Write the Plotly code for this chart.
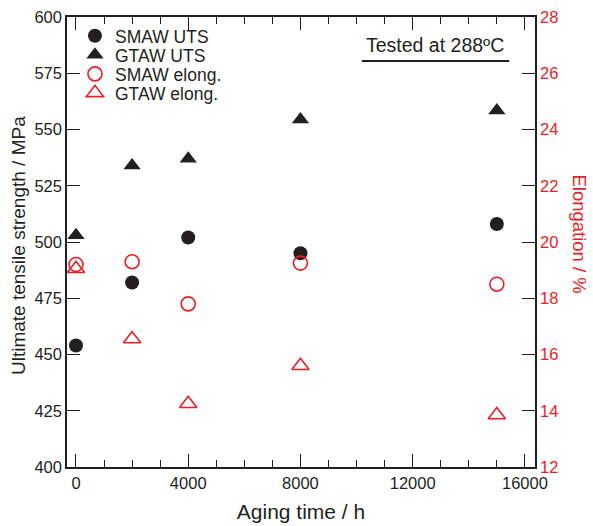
import plotly.graph_objects as go

aging_time = [0, 2000, 4000, 8000, 15000]
smaw_uts = [454, 482, 502, 495, 508]
gtaw_uts = [503, 534, 537, 554.5, 558.5]
smaw_elong = [19.2, 19.3, 17.8, 19.25, 18.5]
gtaw_elong = [19.05, 16.55, 14.25, 15.6, 13.85]
x_ticks = [0, 4000, 8000, 12000, 16000]
x_tick_labels = ["0", "4000", "8000", "12000", "16000"]

RED = "#ec1c24"
DARK = "#231f20"
FONT = "Liberation Sans, Arial, sans-serif"

fig = go.Figure()
fig.add_trace(go.Scatter(x=aging_time, y=smaw_uts, mode="markers", name="SMAW UTS", legend="legend",
                         marker=dict(symbol="circle", size=14, color=DARK, line=dict(width=0))))
fig.add_trace(go.Scatter(x=aging_time, y=gtaw_uts, mode="markers", name="GTAW UTS", legend="legend2",
                         marker=dict(symbol="triangle-up", size=15, color=DARK, line=dict(width=0))))
fig.add_trace(go.Scatter(x=aging_time, y=smaw_elong, mode="markers", name="SMAW elong.", yaxis="y2", legend="legend3",
                         marker=dict(symbol="circle-open", size=14, color=RED, line=dict(width=1.6, color=RED))))
fig.add_trace(go.Scatter(x=aging_time, y=gtaw_elong, mode="markers", name="GTAW elong.", yaxis="y2", legend="legend4",
                         marker=dict(symbol="triangle-up-open", size=15, color=RED, line=dict(width=1.6, color=RED))))

def leg(y):
    return dict(x=0.017, y=y, xanchor="left", yanchor="middle", bgcolor="rgba(0,0,0,0)",
                font=dict(size=17.5, color=DARK), itemwidth=30, borderwidth=0)

fig.update_layout(
    width=593, height=526,
    margin=dict(l=67, r=58, t=17, b=59, autoexpand=False),
    paper_bgcolor="white", plot_bgcolor="white",
    font=dict(family=FONT, size=16, color=DARK),
    showlegend=True,
    legend=leg(0.958), legend2=leg(0.9156), legend3=leg(0.8733), legend4=leg(0.8311),
    xaxis=dict(range=[-320, 16360], tickvals=x_ticks, ticktext=x_tick_labels, automargin=False,
               ticks="inside", ticklen=13, tickwidth=1, tickcolor=DARK,
               minor=dict(dtick=1000, ticks="inside", ticklen=7, tickcolor=DARK, showgrid=False),
               showline=True, linecolor=DARK, linewidth=1.5, mirror="ticks",
               showgrid=False, zeroline=False,
               tickfont=dict(size=16.5, color=DARK),
               title=dict(text="Aging time / h", font=dict(size=21, color=DARK), standoff=14)),
    yaxis=dict(range=[400, 600], dtick=25, ticks="inside", ticklen=13, tickcolor=DARK, automargin=False,
               showline=True, linecolor=DARK, linewidth=1.5,
               showgrid=False, zeroline=False, tickfont=dict(size=16.5, color=DARK)),
    yaxis2=dict(range=[12, 28], dtick=2, overlaying="y", side="right", automargin=False,
                ticks="inside", ticklen=13, tickcolor=DARK,
                showline=True, linecolor=DARK, linewidth=1.5,
                showgrid=False, zeroline=False, tickfont=dict(size=16.5, color=RED)),
    annotations=[
        dict(text="Ultimate tensile strength / MPa", xref="paper", yref="paper", x=-0.105, y=0.493,
             textangle=-90, showarrow=False, font=dict(size=19, color=DARK), xanchor="center", yanchor="middle"),
        dict(text="Elongation / %", xref="paper", yref="paper", x=1.095, y=0.518,
             textangle=90, showarrow=False, font=dict(size=18.5, color=RED), xanchor="center", yanchor="middle"),
        dict(text="Tested at 288ºC", xref="paper", yref="paper", x=0.938, y=0.938,
             showarrow=False, font=dict(size=19.5, color=DARK), xanchor="right", yanchor="middle"),
    ],
    shapes=[dict(type="line", xref="paper", yref="paper", x0=0.63, x1=0.945, y0=0.902, y1=0.902,
                 line=dict(color=DARK, width=2))],
)

fig.write_html("out.html")
